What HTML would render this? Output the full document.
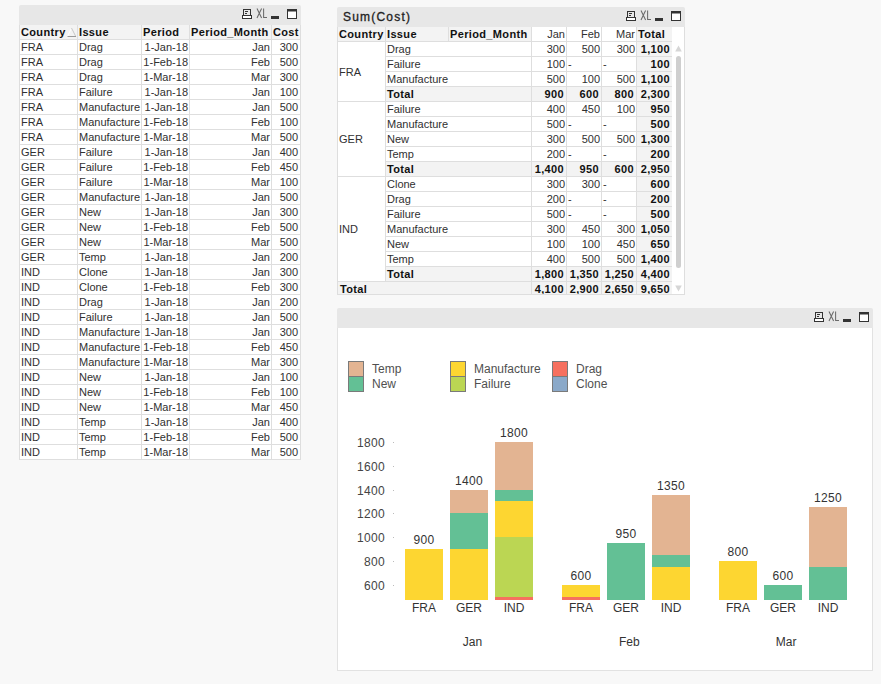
<!DOCTYPE html>
<html><head><meta charset="utf-8"><style>
*{margin:0;padding:0;box-sizing:border-box}
html,body{width:881px;height:684px;overflow:hidden;background:#f8f8f8;font-family:"Liberation Sans",sans-serif;}
.a{position:absolute}
.ic{position:absolute}
.cap{position:absolute;background:#e7e7e7;border-radius:2px 2px 0 0}
.c{position:absolute;height:15px;line-height:15px;font-size:11px;color:#303030;white-space:nowrap;overflow:hidden;padding:0 2px 0 1px}
.r{text-align:right}
.b{font-weight:bold;color:#111;letter-spacing:0.35px}
.hl{position:absolute;height:1px;background:#dedede}
.vl{position:absolute;width:1px;background:#dedede}
</style></head><body>

<div class="cap" style="left:19px;top:5px;width:282px;height:20px"></div>
<svg class="ic" style="left:242px;top:8px" width="56" height="13" viewBox="0 -1 56 13">
<rect x="1.5" y="0.5" width="7" height="6" fill="none" stroke="#333"/>
<rect x="0.5" y="6.5" width="9" height="3" fill="#fff" stroke="#333"/>
<line x1="3" y1="2.5" x2="6" y2="2.5" stroke="#333"/>
<line x1="3" y1="4.5" x2="5" y2="4.5" stroke="#333"/>
<path d="M15 -0.5 L19.6 9 M19.6 -0.5 L15 9 M21.6 -0.5 L21.6 8.5 L25 8.5" fill="none" stroke="#6a6a6a" stroke-width="1.05"/>
<rect x="29" y="7" width="8" height="3" fill="#333"/>
<rect x="45.5" y="0.5" width="9" height="9" fill="#fff" stroke="#333"/>
<rect x="45" y="0" width="10" height="2.5" fill="#333"/>
</svg>
<div class="a" style="left:19px;top:25px;width:282px;height:435px;background:#fff"></div>
<div class="a" style="left:19px;top:25px;width:282px;height:15px;background:#f3f3f3"></div>
<div class="hl" style="left:19px;top:39px;width:282px"></div>
<div class="hl" style="left:19px;top:54px;width:282px"></div>
<div class="hl" style="left:19px;top:69px;width:282px"></div>
<div class="hl" style="left:19px;top:84px;width:282px"></div>
<div class="hl" style="left:19px;top:99px;width:282px"></div>
<div class="hl" style="left:19px;top:114px;width:282px"></div>
<div class="hl" style="left:19px;top:129px;width:282px"></div>
<div class="hl" style="left:19px;top:144px;width:282px"></div>
<div class="hl" style="left:19px;top:159px;width:282px"></div>
<div class="hl" style="left:19px;top:174px;width:282px"></div>
<div class="hl" style="left:19px;top:189px;width:282px"></div>
<div class="hl" style="left:19px;top:204px;width:282px"></div>
<div class="hl" style="left:19px;top:219px;width:282px"></div>
<div class="hl" style="left:19px;top:234px;width:282px"></div>
<div class="hl" style="left:19px;top:249px;width:282px"></div>
<div class="hl" style="left:19px;top:264px;width:282px"></div>
<div class="hl" style="left:19px;top:279px;width:282px"></div>
<div class="hl" style="left:19px;top:294px;width:282px"></div>
<div class="hl" style="left:19px;top:309px;width:282px"></div>
<div class="hl" style="left:19px;top:324px;width:282px"></div>
<div class="hl" style="left:19px;top:339px;width:282px"></div>
<div class="hl" style="left:19px;top:354px;width:282px"></div>
<div class="hl" style="left:19px;top:369px;width:282px"></div>
<div class="hl" style="left:19px;top:384px;width:282px"></div>
<div class="hl" style="left:19px;top:399px;width:282px"></div>
<div class="hl" style="left:19px;top:414px;width:282px"></div>
<div class="hl" style="left:19px;top:429px;width:282px"></div>
<div class="hl" style="left:19px;top:444px;width:282px"></div>
<div class="hl" style="left:19px;top:459px;width:282px"></div>
<div class="vl" style="left:19px;top:25px;height:435px"></div>
<div class="vl" style="left:77px;top:25px;height:435px"></div>
<div class="vl" style="left:141px;top:25px;height:435px"></div>
<div class="vl" style="left:189px;top:25px;height:435px"></div>
<div class="vl" style="left:271px;top:25px;height:435px"></div>
<div class="vl" style="left:300px;top:25px;height:435px"></div>
<div class="c b" style="left:20px;top:25px;width:57px">Country</div>
<div class="c b" style="left:78px;top:25px;width:63px">Issue</div>
<div class="c b" style="left:142px;top:25px;width:47px">Period</div>
<div class="c b" style="left:190px;top:25px;width:81px">Period_Month</div>
<div class="c b" style="left:272px;top:25px;width:28px">Cost</div>
<svg class="a" style="left:66px;top:27px" width="11" height="11"><path d="M5.5 1 L1.5 9.5" stroke="#fff" fill="none"/><path d="M5.5 1 L9.7 9.3" stroke="#c8c8c8" fill="none"/><path d="M1.5 9.5 L10 9.5" stroke="#999" fill="none"/></svg>
<div class="c" style="left:20px;top:40px;width:57px;">FRA</div>
<div class="c" style="left:78px;top:40px;width:63px;">Drag</div>
<div class="c r" style="left:142px;top:40px;width:47px;padding-right:1px;">1-Jan-18</div>
<div class="c r" style="left:190px;top:40px;width:81px;padding-right:1px;">Jan</div>
<div class="c r" style="left:272px;top:40px;width:28px;">300</div>
<div class="c" style="left:20px;top:55px;width:57px;">FRA</div>
<div class="c" style="left:78px;top:55px;width:63px;">Drag</div>
<div class="c r" style="left:142px;top:55px;width:47px;padding-right:1px;">1-Feb-18</div>
<div class="c r" style="left:190px;top:55px;width:81px;padding-right:1px;">Feb</div>
<div class="c r" style="left:272px;top:55px;width:28px;">500</div>
<div class="c" style="left:20px;top:70px;width:57px;">FRA</div>
<div class="c" style="left:78px;top:70px;width:63px;">Drag</div>
<div class="c r" style="left:142px;top:70px;width:47px;padding-right:1px;">1-Mar-18</div>
<div class="c r" style="left:190px;top:70px;width:81px;padding-right:1px;">Mar</div>
<div class="c r" style="left:272px;top:70px;width:28px;">300</div>
<div class="c" style="left:20px;top:85px;width:57px;">FRA</div>
<div class="c" style="left:78px;top:85px;width:63px;">Failure</div>
<div class="c r" style="left:142px;top:85px;width:47px;padding-right:1px;">1-Jan-18</div>
<div class="c r" style="left:190px;top:85px;width:81px;padding-right:1px;">Jan</div>
<div class="c r" style="left:272px;top:85px;width:28px;">100</div>
<div class="c" style="left:20px;top:100px;width:57px;">FRA</div>
<div class="c" style="left:78px;top:100px;width:63px;">Manufacture</div>
<div class="c r" style="left:142px;top:100px;width:47px;padding-right:1px;">1-Jan-18</div>
<div class="c r" style="left:190px;top:100px;width:81px;padding-right:1px;">Jan</div>
<div class="c r" style="left:272px;top:100px;width:28px;">500</div>
<div class="c" style="left:20px;top:115px;width:57px;">FRA</div>
<div class="c" style="left:78px;top:115px;width:63px;">Manufacture</div>
<div class="c r" style="left:142px;top:115px;width:47px;padding-right:1px;">1-Feb-18</div>
<div class="c r" style="left:190px;top:115px;width:81px;padding-right:1px;">Feb</div>
<div class="c r" style="left:272px;top:115px;width:28px;">100</div>
<div class="c" style="left:20px;top:130px;width:57px;">FRA</div>
<div class="c" style="left:78px;top:130px;width:63px;">Manufacture</div>
<div class="c r" style="left:142px;top:130px;width:47px;padding-right:1px;">1-Mar-18</div>
<div class="c r" style="left:190px;top:130px;width:81px;padding-right:1px;">Mar</div>
<div class="c r" style="left:272px;top:130px;width:28px;">500</div>
<div class="c" style="left:20px;top:145px;width:57px;">GER</div>
<div class="c" style="left:78px;top:145px;width:63px;">Failure</div>
<div class="c r" style="left:142px;top:145px;width:47px;padding-right:1px;">1-Jan-18</div>
<div class="c r" style="left:190px;top:145px;width:81px;padding-right:1px;">Jan</div>
<div class="c r" style="left:272px;top:145px;width:28px;">400</div>
<div class="c" style="left:20px;top:160px;width:57px;">GER</div>
<div class="c" style="left:78px;top:160px;width:63px;">Failure</div>
<div class="c r" style="left:142px;top:160px;width:47px;padding-right:1px;">1-Feb-18</div>
<div class="c r" style="left:190px;top:160px;width:81px;padding-right:1px;">Feb</div>
<div class="c r" style="left:272px;top:160px;width:28px;">450</div>
<div class="c" style="left:20px;top:175px;width:57px;">GER</div>
<div class="c" style="left:78px;top:175px;width:63px;">Failure</div>
<div class="c r" style="left:142px;top:175px;width:47px;padding-right:1px;">1-Mar-18</div>
<div class="c r" style="left:190px;top:175px;width:81px;padding-right:1px;">Mar</div>
<div class="c r" style="left:272px;top:175px;width:28px;">100</div>
<div class="c" style="left:20px;top:190px;width:57px;">GER</div>
<div class="c" style="left:78px;top:190px;width:63px;">Manufacture</div>
<div class="c r" style="left:142px;top:190px;width:47px;padding-right:1px;">1-Jan-18</div>
<div class="c r" style="left:190px;top:190px;width:81px;padding-right:1px;">Jan</div>
<div class="c r" style="left:272px;top:190px;width:28px;">500</div>
<div class="c" style="left:20px;top:205px;width:57px;">GER</div>
<div class="c" style="left:78px;top:205px;width:63px;">New</div>
<div class="c r" style="left:142px;top:205px;width:47px;padding-right:1px;">1-Jan-18</div>
<div class="c r" style="left:190px;top:205px;width:81px;padding-right:1px;">Jan</div>
<div class="c r" style="left:272px;top:205px;width:28px;">300</div>
<div class="c" style="left:20px;top:220px;width:57px;">GER</div>
<div class="c" style="left:78px;top:220px;width:63px;">New</div>
<div class="c r" style="left:142px;top:220px;width:47px;padding-right:1px;">1-Feb-18</div>
<div class="c r" style="left:190px;top:220px;width:81px;padding-right:1px;">Feb</div>
<div class="c r" style="left:272px;top:220px;width:28px;">500</div>
<div class="c" style="left:20px;top:235px;width:57px;">GER</div>
<div class="c" style="left:78px;top:235px;width:63px;">New</div>
<div class="c r" style="left:142px;top:235px;width:47px;padding-right:1px;">1-Mar-18</div>
<div class="c r" style="left:190px;top:235px;width:81px;padding-right:1px;">Mar</div>
<div class="c r" style="left:272px;top:235px;width:28px;">500</div>
<div class="c" style="left:20px;top:250px;width:57px;">GER</div>
<div class="c" style="left:78px;top:250px;width:63px;">Temp</div>
<div class="c r" style="left:142px;top:250px;width:47px;padding-right:1px;">1-Jan-18</div>
<div class="c r" style="left:190px;top:250px;width:81px;padding-right:1px;">Jan</div>
<div class="c r" style="left:272px;top:250px;width:28px;">200</div>
<div class="c" style="left:20px;top:265px;width:57px;">IND</div>
<div class="c" style="left:78px;top:265px;width:63px;">Clone</div>
<div class="c r" style="left:142px;top:265px;width:47px;padding-right:1px;">1-Jan-18</div>
<div class="c r" style="left:190px;top:265px;width:81px;padding-right:1px;">Jan</div>
<div class="c r" style="left:272px;top:265px;width:28px;">300</div>
<div class="c" style="left:20px;top:280px;width:57px;">IND</div>
<div class="c" style="left:78px;top:280px;width:63px;">Clone</div>
<div class="c r" style="left:142px;top:280px;width:47px;padding-right:1px;">1-Feb-18</div>
<div class="c r" style="left:190px;top:280px;width:81px;padding-right:1px;">Feb</div>
<div class="c r" style="left:272px;top:280px;width:28px;">300</div>
<div class="c" style="left:20px;top:295px;width:57px;">IND</div>
<div class="c" style="left:78px;top:295px;width:63px;">Drag</div>
<div class="c r" style="left:142px;top:295px;width:47px;padding-right:1px;">1-Jan-18</div>
<div class="c r" style="left:190px;top:295px;width:81px;padding-right:1px;">Jan</div>
<div class="c r" style="left:272px;top:295px;width:28px;">200</div>
<div class="c" style="left:20px;top:310px;width:57px;">IND</div>
<div class="c" style="left:78px;top:310px;width:63px;">Failure</div>
<div class="c r" style="left:142px;top:310px;width:47px;padding-right:1px;">1-Jan-18</div>
<div class="c r" style="left:190px;top:310px;width:81px;padding-right:1px;">Jan</div>
<div class="c r" style="left:272px;top:310px;width:28px;">500</div>
<div class="c" style="left:20px;top:325px;width:57px;">IND</div>
<div class="c" style="left:78px;top:325px;width:63px;">Manufacture</div>
<div class="c r" style="left:142px;top:325px;width:47px;padding-right:1px;">1-Jan-18</div>
<div class="c r" style="left:190px;top:325px;width:81px;padding-right:1px;">Jan</div>
<div class="c r" style="left:272px;top:325px;width:28px;">300</div>
<div class="c" style="left:20px;top:340px;width:57px;">IND</div>
<div class="c" style="left:78px;top:340px;width:63px;">Manufacture</div>
<div class="c r" style="left:142px;top:340px;width:47px;padding-right:1px;">1-Feb-18</div>
<div class="c r" style="left:190px;top:340px;width:81px;padding-right:1px;">Feb</div>
<div class="c r" style="left:272px;top:340px;width:28px;">450</div>
<div class="c" style="left:20px;top:355px;width:57px;">IND</div>
<div class="c" style="left:78px;top:355px;width:63px;">Manufacture</div>
<div class="c r" style="left:142px;top:355px;width:47px;padding-right:1px;">1-Mar-18</div>
<div class="c r" style="left:190px;top:355px;width:81px;padding-right:1px;">Mar</div>
<div class="c r" style="left:272px;top:355px;width:28px;">300</div>
<div class="c" style="left:20px;top:370px;width:57px;">IND</div>
<div class="c" style="left:78px;top:370px;width:63px;">New</div>
<div class="c r" style="left:142px;top:370px;width:47px;padding-right:1px;">1-Jan-18</div>
<div class="c r" style="left:190px;top:370px;width:81px;padding-right:1px;">Jan</div>
<div class="c r" style="left:272px;top:370px;width:28px;">100</div>
<div class="c" style="left:20px;top:385px;width:57px;">IND</div>
<div class="c" style="left:78px;top:385px;width:63px;">New</div>
<div class="c r" style="left:142px;top:385px;width:47px;padding-right:1px;">1-Feb-18</div>
<div class="c r" style="left:190px;top:385px;width:81px;padding-right:1px;">Feb</div>
<div class="c r" style="left:272px;top:385px;width:28px;">100</div>
<div class="c" style="left:20px;top:400px;width:57px;">IND</div>
<div class="c" style="left:78px;top:400px;width:63px;">New</div>
<div class="c r" style="left:142px;top:400px;width:47px;padding-right:1px;">1-Mar-18</div>
<div class="c r" style="left:190px;top:400px;width:81px;padding-right:1px;">Mar</div>
<div class="c r" style="left:272px;top:400px;width:28px;">450</div>
<div class="c" style="left:20px;top:415px;width:57px;">IND</div>
<div class="c" style="left:78px;top:415px;width:63px;">Temp</div>
<div class="c r" style="left:142px;top:415px;width:47px;padding-right:1px;">1-Jan-18</div>
<div class="c r" style="left:190px;top:415px;width:81px;padding-right:1px;">Jan</div>
<div class="c r" style="left:272px;top:415px;width:28px;">400</div>
<div class="c" style="left:20px;top:430px;width:57px;">IND</div>
<div class="c" style="left:78px;top:430px;width:63px;">Temp</div>
<div class="c r" style="left:142px;top:430px;width:47px;padding-right:1px;">1-Feb-18</div>
<div class="c r" style="left:190px;top:430px;width:81px;padding-right:1px;">Feb</div>
<div class="c r" style="left:272px;top:430px;width:28px;">500</div>
<div class="c" style="left:20px;top:445px;width:57px;">IND</div>
<div class="c" style="left:78px;top:445px;width:63px;">Temp</div>
<div class="c r" style="left:142px;top:445px;width:47px;padding-right:1px;">1-Mar-18</div>
<div class="c r" style="left:190px;top:445px;width:81px;padding-right:1px;">Mar</div>
<div class="c r" style="left:272px;top:445px;width:28px;">500</div>
<div class="cap" style="left:337px;top:7px;width:348px;height:20px"></div>
<div class="a" style="left:343px;top:7px;font-size:12px;-webkit-text-stroke:0.3px #222;letter-spacing:1.2px;line-height:20px;color:#222">Sum(Cost)</div>
<svg class="ic" style="left:626px;top:10px" width="56" height="13" viewBox="0 -1 56 13">
<rect x="1.5" y="0.5" width="7" height="6" fill="none" stroke="#333"/>
<rect x="0.5" y="6.5" width="9" height="3" fill="#fff" stroke="#333"/>
<line x1="3" y1="2.5" x2="6" y2="2.5" stroke="#333"/>
<line x1="3" y1="4.5" x2="5" y2="4.5" stroke="#333"/>
<path d="M15 -0.5 L19.6 9 M19.6 -0.5 L15 9 M21.6 -0.5 L21.6 8.5 L25 8.5" fill="none" stroke="#6a6a6a" stroke-width="1.05"/>
<rect x="29" y="7" width="8" height="3" fill="#333"/>
<rect x="45.5" y="0.5" width="9" height="9" fill="#fff" stroke="#333"/>
<rect x="45" y="0" width="10" height="2.5" fill="#333"/>
</svg>
<div class="a" style="left:337px;top:27px;width:348px;height:268px;background:#fff"></div>
<div class="a" style="left:337px;top:27px;width:194px;height:14px;background:#f3f3f3"></div>
<div class="a" style="left:637px;top:27px;width:35px;height:268px;background:#f3f3f3"></div>
<div class="c b" style="left:338px;top:27px;width:47px">Country</div>
<div class="c b" style="left:386px;top:27px;width:62px">Issue</div>
<div class="c b" style="left:449px;top:27px;width:82px">Period_Month</div>
<div class="c r" style="left:532px;top:27px;width:34px;padding-right:1px">Jan</div>
<div class="c r" style="left:567px;top:27px;width:34px;padding-right:1px">Feb</div>
<div class="c r" style="left:602px;top:27px;width:34px;padding-right:1px">Mar</div>
<div class="c b" style="left:637px;top:27px;width:36px">Total</div>
<div class="hl" style="left:337px;top:41px;width:335px"></div>
<div class="vl" style="left:385px;top:27px;height:14px"></div>
<div class="vl" style="left:448px;top:27px;height:14px"></div>
<div class="c" style="left:338px;top:42px;width:47px;height:60px;line-height:60px">FRA</div>
<div class="hl" style="left:337px;top:101px;width:335px"></div>
<div class="vl" style="left:385px;top:42px;height:60px"></div>
<div class="hl" style="left:385px;top:56px;width:287px"></div>
<div class="c" style="left:386px;top:42px;width:145px">Drag</div>
<div class="c r" style="left:532px;top:42px;width:34px;padding-right:1px">300</div>
<div class="c r" style="left:567px;top:42px;width:34px;padding-right:1px">500</div>
<div class="c r" style="left:602px;top:42px;width:34px;padding-right:1px">300</div>
<div class="c r b" style="left:637px;top:42px;width:35px">1,100</div>
<div class="hl" style="left:385px;top:71px;width:287px"></div>
<div class="c" style="left:386px;top:57px;width:145px">Failure</div>
<div class="c r" style="left:532px;top:57px;width:34px;padding-right:1px">100</div>
<div class="c" style="left:567px;top:57px;width:34px;padding-right:1px">-</div>
<div class="c" style="left:602px;top:57px;width:34px;padding-right:1px">-</div>
<div class="c r b" style="left:637px;top:57px;width:35px">100</div>
<div class="hl" style="left:385px;top:86px;width:287px"></div>
<div class="c" style="left:386px;top:72px;width:145px">Manufacture</div>
<div class="c r" style="left:532px;top:72px;width:34px;padding-right:1px">500</div>
<div class="c r" style="left:567px;top:72px;width:34px;padding-right:1px">100</div>
<div class="c r" style="left:602px;top:72px;width:34px;padding-right:1px">500</div>
<div class="c r b" style="left:637px;top:72px;width:35px">1,100</div>
<div class="a" style="left:386px;top:87px;width:286px;height:14px;background:#f3f3f3"></div>
<div class="hl" style="left:385px;top:101px;width:287px"></div>
<div class="c b" style="left:386px;top:87px;width:145px">Total</div>
<div class="c r b" style="left:532px;top:87px;width:34px;">900</div>
<div class="c r b" style="left:567px;top:87px;width:34px;">600</div>
<div class="c r b" style="left:602px;top:87px;width:34px;">800</div>
<div class="c r b" style="left:637px;top:87px;width:35px">2,300</div>
<div class="c" style="left:338px;top:102px;width:47px;height:75px;line-height:75px">GER</div>
<div class="hl" style="left:337px;top:176px;width:335px"></div>
<div class="vl" style="left:385px;top:102px;height:75px"></div>
<div class="hl" style="left:385px;top:116px;width:287px"></div>
<div class="c" style="left:386px;top:102px;width:145px">Failure</div>
<div class="c r" style="left:532px;top:102px;width:34px;padding-right:1px">400</div>
<div class="c r" style="left:567px;top:102px;width:34px;padding-right:1px">450</div>
<div class="c r" style="left:602px;top:102px;width:34px;padding-right:1px">100</div>
<div class="c r b" style="left:637px;top:102px;width:35px">950</div>
<div class="hl" style="left:385px;top:131px;width:287px"></div>
<div class="c" style="left:386px;top:117px;width:145px">Manufacture</div>
<div class="c r" style="left:532px;top:117px;width:34px;padding-right:1px">500</div>
<div class="c" style="left:567px;top:117px;width:34px;padding-right:1px">-</div>
<div class="c" style="left:602px;top:117px;width:34px;padding-right:1px">-</div>
<div class="c r b" style="left:637px;top:117px;width:35px">500</div>
<div class="hl" style="left:385px;top:146px;width:287px"></div>
<div class="c" style="left:386px;top:132px;width:145px">New</div>
<div class="c r" style="left:532px;top:132px;width:34px;padding-right:1px">300</div>
<div class="c r" style="left:567px;top:132px;width:34px;padding-right:1px">500</div>
<div class="c r" style="left:602px;top:132px;width:34px;padding-right:1px">500</div>
<div class="c r b" style="left:637px;top:132px;width:35px">1,300</div>
<div class="hl" style="left:385px;top:161px;width:287px"></div>
<div class="c" style="left:386px;top:147px;width:145px">Temp</div>
<div class="c r" style="left:532px;top:147px;width:34px;padding-right:1px">200</div>
<div class="c" style="left:567px;top:147px;width:34px;padding-right:1px">-</div>
<div class="c" style="left:602px;top:147px;width:34px;padding-right:1px">-</div>
<div class="c r b" style="left:637px;top:147px;width:35px">200</div>
<div class="a" style="left:386px;top:162px;width:286px;height:14px;background:#f3f3f3"></div>
<div class="hl" style="left:385px;top:176px;width:287px"></div>
<div class="c b" style="left:386px;top:162px;width:145px">Total</div>
<div class="c r b" style="left:532px;top:162px;width:34px;">1,400</div>
<div class="c r b" style="left:567px;top:162px;width:34px;">950</div>
<div class="c r b" style="left:602px;top:162px;width:34px;">600</div>
<div class="c r b" style="left:637px;top:162px;width:35px">2,950</div>
<div class="c" style="left:338px;top:177px;width:47px;height:105px;line-height:105px">IND</div>
<div class="hl" style="left:337px;top:281px;width:335px"></div>
<div class="vl" style="left:385px;top:177px;height:105px"></div>
<div class="hl" style="left:385px;top:191px;width:287px"></div>
<div class="c" style="left:386px;top:177px;width:145px">Clone</div>
<div class="c r" style="left:532px;top:177px;width:34px;padding-right:1px">300</div>
<div class="c r" style="left:567px;top:177px;width:34px;padding-right:1px">300</div>
<div class="c" style="left:602px;top:177px;width:34px;padding-right:1px">-</div>
<div class="c r b" style="left:637px;top:177px;width:35px">600</div>
<div class="hl" style="left:385px;top:206px;width:287px"></div>
<div class="c" style="left:386px;top:192px;width:145px">Drag</div>
<div class="c r" style="left:532px;top:192px;width:34px;padding-right:1px">200</div>
<div class="c" style="left:567px;top:192px;width:34px;padding-right:1px">-</div>
<div class="c" style="left:602px;top:192px;width:34px;padding-right:1px">-</div>
<div class="c r b" style="left:637px;top:192px;width:35px">200</div>
<div class="hl" style="left:385px;top:221px;width:287px"></div>
<div class="c" style="left:386px;top:207px;width:145px">Failure</div>
<div class="c r" style="left:532px;top:207px;width:34px;padding-right:1px">500</div>
<div class="c" style="left:567px;top:207px;width:34px;padding-right:1px">-</div>
<div class="c" style="left:602px;top:207px;width:34px;padding-right:1px">-</div>
<div class="c r b" style="left:637px;top:207px;width:35px">500</div>
<div class="hl" style="left:385px;top:236px;width:287px"></div>
<div class="c" style="left:386px;top:222px;width:145px">Manufacture</div>
<div class="c r" style="left:532px;top:222px;width:34px;padding-right:1px">300</div>
<div class="c r" style="left:567px;top:222px;width:34px;padding-right:1px">450</div>
<div class="c r" style="left:602px;top:222px;width:34px;padding-right:1px">300</div>
<div class="c r b" style="left:637px;top:222px;width:35px">1,050</div>
<div class="hl" style="left:385px;top:251px;width:287px"></div>
<div class="c" style="left:386px;top:237px;width:145px">New</div>
<div class="c r" style="left:532px;top:237px;width:34px;padding-right:1px">100</div>
<div class="c r" style="left:567px;top:237px;width:34px;padding-right:1px">100</div>
<div class="c r" style="left:602px;top:237px;width:34px;padding-right:1px">450</div>
<div class="c r b" style="left:637px;top:237px;width:35px">650</div>
<div class="hl" style="left:385px;top:266px;width:287px"></div>
<div class="c" style="left:386px;top:252px;width:145px">Temp</div>
<div class="c r" style="left:532px;top:252px;width:34px;padding-right:1px">400</div>
<div class="c r" style="left:567px;top:252px;width:34px;padding-right:1px">500</div>
<div class="c r" style="left:602px;top:252px;width:34px;padding-right:1px">500</div>
<div class="c r b" style="left:637px;top:252px;width:35px">1,400</div>
<div class="a" style="left:386px;top:267px;width:286px;height:14px;background:#f3f3f3"></div>
<div class="hl" style="left:385px;top:281px;width:287px"></div>
<div class="c b" style="left:386px;top:267px;width:145px">Total</div>
<div class="c r b" style="left:532px;top:267px;width:34px;">1,800</div>
<div class="c r b" style="left:567px;top:267px;width:34px;">1,350</div>
<div class="c r b" style="left:602px;top:267px;width:34px;">1,250</div>
<div class="c r b" style="left:637px;top:267px;width:35px">4,400</div>
<div class="a" style="left:338px;top:282px;width:334px;height:12px;background:#f3f3f3"></div>
<div class="c b" style="left:339px;top:282px;width:190px">Total</div>
<div class="c r b" style="left:532px;top:282px;width:34px">4,100</div>
<div class="c r b" style="left:567px;top:282px;width:34px">2,900</div>
<div class="c r b" style="left:602px;top:282px;width:34px">2,650</div>
<div class="c r b" style="left:637px;top:282px;width:35px">9,650</div>
<div class="hl" style="left:337px;top:294px;width:348px"></div>
<div class="vl" style="left:531px;top:27px;height:268px"></div>
<div class="vl" style="left:566px;top:27px;height:268px"></div>
<div class="vl" style="left:601px;top:27px;height:268px"></div>
<div class="vl" style="left:636px;top:27px;height:268px"></div>
<div class="vl" style="left:337px;top:27px;height:268px"></div>
<div class="vl" style="left:684px;top:27px;height:268px"></div>
<svg class="a" style="left:675px;top:45px" width="7" height="7"><path d="M3.5 0.5 L6.8 6.5 L0.2 6.5 Z" fill="#d6d6d6"/></svg>
<div class="a" style="left:676px;top:56px;width:5px;height:212px;background:#cfcfcf;border-radius:3px"></div>
<svg class="a" style="left:675px;top:285px" width="7" height="7"><path d="M3.5 6.5 L6.8 0.5 L0.2 0.5 Z" fill="#d6d6d6"/></svg>
<div class="cap" style="left:337px;top:308px;width:536px;height:20px"></div>
<svg class="ic" style="left:814px;top:311px" width="56" height="13" viewBox="0 -1 56 13">
<rect x="1.5" y="0.5" width="7" height="6" fill="none" stroke="#333"/>
<rect x="0.5" y="6.5" width="9" height="3" fill="#fff" stroke="#333"/>
<line x1="3" y1="2.5" x2="6" y2="2.5" stroke="#333"/>
<line x1="3" y1="4.5" x2="5" y2="4.5" stroke="#333"/>
<path d="M15 -0.5 L19.6 9 M19.6 -0.5 L15 9 M21.6 -0.5 L21.6 8.5 L25 8.5" fill="none" stroke="#6a6a6a" stroke-width="1.05"/>
<rect x="29" y="7" width="8" height="3" fill="#333"/>
<rect x="45.5" y="0.5" width="9" height="9" fill="#fff" stroke="#333"/>
<rect x="45" y="0" width="10" height="2.5" fill="#333"/>
</svg>
<div class="a" style="left:337px;top:328px;width:536px;height:343px;background:#fff;border:1px solid #e2e2e2;border-top:none"></div>
<div class="a" style="left:348px;top:361px;width:16px;height:16px;background:#e3b492;border:1px solid #7a7a7a"></div>
<div class="a" style="left:372px;top:362px;font-size:12px;line-height:15px;color:#505050">Temp</div>
<div class="a" style="left:348px;top:376px;width:16px;height:16px;background:#63c095;border:1px solid #7a7a7a"></div>
<div class="a" style="left:372px;top:377px;font-size:12px;line-height:15px;color:#505050">New</div>
<div class="a" style="left:450px;top:361px;width:16px;height:16px;background:#fdd631;border:1px solid #7a7a7a"></div>
<div class="a" style="left:474px;top:362px;font-size:12px;line-height:15px;color:#505050">Manufacture</div>
<div class="a" style="left:450px;top:376px;width:16px;height:16px;background:#bbd653;border:1px solid #7a7a7a"></div>
<div class="a" style="left:474px;top:377px;font-size:12px;line-height:15px;color:#505050">Failure</div>
<div class="a" style="left:552px;top:361px;width:16px;height:16px;background:#f6705f;border:1px solid #7a7a7a"></div>
<div class="a" style="left:576px;top:362px;font-size:12px;line-height:15px;color:#505050">Drag</div>
<div class="a" style="left:552px;top:376px;width:16px;height:16px;background:#8ba9c9;border:1px solid #7a7a7a"></div>
<div class="a" style="left:576px;top:377px;font-size:12px;line-height:15px;color:#505050">Clone</div>
<div class="a" style="left:340px;top:577.7px;width:45px;text-align:right;font-size:12px;letter-spacing:0.3px;line-height:16px;color:#444">600</div>
<div class="a" style="left:393px;top:584.7px;width:1px;height:1px;background:#bbb"></div>
<div class="a" style="left:340px;top:553.9px;width:45px;text-align:right;font-size:12px;letter-spacing:0.3px;line-height:16px;color:#444">800</div>
<div class="a" style="left:393px;top:560.9px;width:1px;height:1px;background:#bbb"></div>
<div class="a" style="left:340px;top:530.1px;width:45px;text-align:right;font-size:12px;letter-spacing:0.3px;line-height:16px;color:#444">1000</div>
<div class="a" style="left:393px;top:537.1px;width:1px;height:1px;background:#bbb"></div>
<div class="a" style="left:340px;top:506.3px;width:45px;text-align:right;font-size:12px;letter-spacing:0.3px;line-height:16px;color:#444">1200</div>
<div class="a" style="left:393px;top:513.3px;width:1px;height:1px;background:#bbb"></div>
<div class="a" style="left:340px;top:482.6px;width:45px;text-align:right;font-size:12px;letter-spacing:0.3px;line-height:16px;color:#444">1400</div>
<div class="a" style="left:393px;top:489.6px;width:1px;height:1px;background:#bbb"></div>
<div class="a" style="left:340px;top:458.8px;width:45px;text-align:right;font-size:12px;letter-spacing:0.3px;line-height:16px;color:#444">1600</div>
<div class="a" style="left:393px;top:465.8px;width:1px;height:1px;background:#bbb"></div>
<div class="a" style="left:340px;top:435.0px;width:45px;text-align:right;font-size:12px;letter-spacing:0.3px;line-height:16px;color:#444">1800</div>
<div class="a" style="left:393px;top:442.0px;width:1px;height:1px;background:#bbb"></div>
<div class="a" style="left:405.0px;top:549px;width:38px;height:51px;background:#fdd631"></div>
<div class="a" style="left:395.0px;top:533px;width:58px;text-align:center;font-size:12px;letter-spacing:0.3px;line-height:14px;color:#333">900</div>
<div class="a" style="left:395.0px;top:601px;width:58px;text-align:center;font-size:12px;line-height:14px;color:#333">FRA</div>
<div class="a" style="left:450.0px;top:490px;width:38px;height:23px;background:#e3b492"></div>
<div class="a" style="left:450.0px;top:513px;width:38px;height:36px;background:#63c095"></div>
<div class="a" style="left:450.0px;top:549px;width:38px;height:51px;background:#fdd631"></div>
<div class="a" style="left:440.0px;top:474px;width:58px;text-align:center;font-size:12px;letter-spacing:0.3px;line-height:14px;color:#333">1400</div>
<div class="a" style="left:440.0px;top:601px;width:58px;text-align:center;font-size:12px;line-height:14px;color:#333">GER</div>
<div class="a" style="left:495.0px;top:442px;width:38px;height:48px;background:#e3b492"></div>
<div class="a" style="left:495.0px;top:490px;width:38px;height:11px;background:#63c095"></div>
<div class="a" style="left:495.0px;top:501px;width:38px;height:36px;background:#fdd631"></div>
<div class="a" style="left:495.0px;top:537px;width:38px;height:60px;background:#bbd653"></div>
<div class="a" style="left:495.0px;top:597px;width:38px;height:3px;background:#f6705f"></div>
<div class="a" style="left:485.0px;top:426px;width:58px;text-align:center;font-size:12px;letter-spacing:0.3px;line-height:14px;color:#333">1800</div>
<div class="a" style="left:485.0px;top:601px;width:58px;text-align:center;font-size:12px;line-height:14px;color:#333">IND</div>
<div class="a" style="left:432.5px;top:635px;width:80px;text-align:center;font-size:12px;line-height:14px;color:#333">Jan</div>
<div class="a" style="left:562.0px;top:585px;width:38px;height:12px;background:#fdd631"></div>
<div class="a" style="left:562.0px;top:597px;width:38px;height:3px;background:#f6705f"></div>
<div class="a" style="left:552.0px;top:569px;width:58px;text-align:center;font-size:12px;letter-spacing:0.3px;line-height:14px;color:#333">600</div>
<div class="a" style="left:552.0px;top:601px;width:58px;text-align:center;font-size:12px;line-height:14px;color:#333">FRA</div>
<div class="a" style="left:607.0px;top:543px;width:38px;height:57px;background:#63c095"></div>
<div class="a" style="left:597.0px;top:527px;width:58px;text-align:center;font-size:12px;letter-spacing:0.3px;line-height:14px;color:#333">950</div>
<div class="a" style="left:597.0px;top:601px;width:58px;text-align:center;font-size:12px;line-height:14px;color:#333">GER</div>
<div class="a" style="left:652.0px;top:495px;width:38px;height:60px;background:#e3b492"></div>
<div class="a" style="left:652.0px;top:555px;width:38px;height:12px;background:#63c095"></div>
<div class="a" style="left:652.0px;top:567px;width:38px;height:33px;background:#fdd631"></div>
<div class="a" style="left:642.0px;top:479px;width:58px;text-align:center;font-size:12px;letter-spacing:0.3px;line-height:14px;color:#333">1350</div>
<div class="a" style="left:642.0px;top:601px;width:58px;text-align:center;font-size:12px;line-height:14px;color:#333">IND</div>
<div class="a" style="left:589.3px;top:635px;width:80px;text-align:center;font-size:12px;line-height:14px;color:#333">Feb</div>
<div class="a" style="left:719.0px;top:561px;width:38px;height:39px;background:#fdd631"></div>
<div class="a" style="left:709.0px;top:545px;width:58px;text-align:center;font-size:12px;letter-spacing:0.3px;line-height:14px;color:#333">800</div>
<div class="a" style="left:709.0px;top:601px;width:58px;text-align:center;font-size:12px;line-height:14px;color:#333">FRA</div>
<div class="a" style="left:764.0px;top:585px;width:38px;height:15px;background:#63c095"></div>
<div class="a" style="left:754.0px;top:569px;width:58px;text-align:center;font-size:12px;letter-spacing:0.3px;line-height:14px;color:#333">600</div>
<div class="a" style="left:754.0px;top:601px;width:58px;text-align:center;font-size:12px;line-height:14px;color:#333">GER</div>
<div class="a" style="left:809.0px;top:507px;width:38px;height:60px;background:#e3b492"></div>
<div class="a" style="left:809.0px;top:567px;width:38px;height:33px;background:#63c095"></div>
<div class="a" style="left:799.0px;top:491px;width:58px;text-align:center;font-size:12px;letter-spacing:0.3px;line-height:14px;color:#333">1250</div>
<div class="a" style="left:799.0px;top:601px;width:58px;text-align:center;font-size:12px;line-height:14px;color:#333">IND</div>
<div class="a" style="left:746.1px;top:635px;width:80px;text-align:center;font-size:12px;line-height:14px;color:#333">Mar</div>
</body></html>
